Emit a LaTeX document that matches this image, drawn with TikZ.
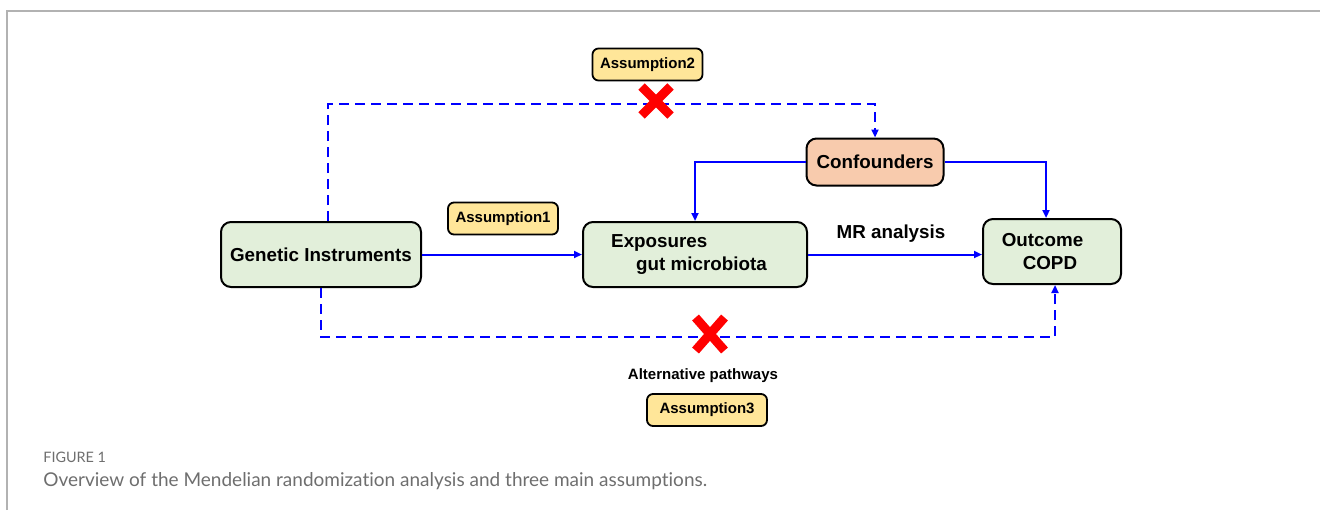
\documentclass[tikz,border=0pt]{standalone}
\usepackage{fontspec}
\setmainfont{Liberation Sans}
\newfontfamily\captionfont[Ligatures=NoCommon]{Lato}
\usepackage{tikz}
\usepackage{xcolor}
\usetikzlibrary{positioning, arrows.meta, shapes.misc}

\definecolor{boxgreen}{HTML}{E2EFDA}
\definecolor{boxpeach}{HTML}{F8CBAD}
\definecolor{boxyellow}{HTML}{FFE699}
\definecolor{linkblue}{HTML}{0000FF}
\definecolor{capgray}{HTML}{6E6E6E}

\begin{document}
\begin{tikzpicture}[
            x=0.5pt, y=-0.5pt,
            every node/.style={font=\fontsize{9.4}{11.5}\selectfont\bfseries},
            mainbox/.style={draw, rounded corners=5pt, line width=1pt, fill=boxgreen, minimum height=32.5pt},
            assumbox/.style={draw, rounded corners=3pt, line width=0.9pt, fill=boxyellow,
                minimum width=55pt, minimum height=16pt, inner sep=0pt, font=\fontsize{7.5}{9}\selectfont\bfseries},
            link/.style={draw=linkblue, line width=1pt, -{Triangle[length=4pt, width=3.5pt]}},
            dashlink/.style={link, dash pattern=on 5pt off 3pt},
            nocross/.style={cross out, draw=red, line width=4.5pt, minimum size=10pt, inner sep=0pt},
        ]
            \useasboundingbox (0,0) rectangle (1320,510);
            % frame of the figure
            \draw[gray!60, line width=1pt] (7,510) -- (7,11) -- (1320,11);

            % main boxes
            \node[mainbox, minimum width=100pt] (gi) at (321,254.5) {Genetic Instruments};
            \node[mainbox, minimum width=112pt, align=left] (exp) at (695,254.5)
                {Exposures\\\hspace*{12.5pt}gut microbiota\hspace*{6pt}};
            \node[mainbox, minimum width=69pt, align=left] (out) at (1052,251.5)
                {Outcome\hspace*{9.5pt}\\\hspace*{10.5pt}COPD};
            \node[mainbox, fill=boxpeach, minimum width=68.5pt, minimum height=23.5pt] (conf) at (875,162) {Confounders};

            % assumptions
            \node[assumbox] (a1) at (503,218.5) {Assumption1};
            \node[assumbox] (a2) at (647.5,64.5) {Assumption2};
            \node[assumbox, minimum width=60pt] (a3) at (707,410) {Assumption3};

            \node (mr) at (891,234) {MR analysis};
            \node[font=\fontsize{7.5}{9}\selectfont\bfseries] (alt) at (703,376) {Alternative pathways};

            % connectors
            \draw[link] (gi) -- (exp);
            \draw[link] (exp.east) -- (exp.east -| out.west);
            \draw[link] (conf.west) -| (exp.north);
            \draw[link] (conf.east) -| ([xshift=-3pt]out.north);
            \coordinate (top) at (328,104);
            \coordinate (bot) at (321,337);
            \draw[dashlink] ([xshift=3.5pt]gi.north) -- (top) -| (conf.north);
            \draw[dashlink] (gi.south) -- (bot) -| ([xshift=1.5pt]out.south);

            % violated paths
            \node[nocross] (x2) at (656,101) {};
            \node[nocross, minimum height=12pt] (x3) at (710,334) {};

            % caption
            \node[anchor=west, font=\captionfont\fontsize{7.2}{9}\selectfont, text=capgray, inner sep=0pt] (fig) at (43,457) {FIGURE 1};
            \node[anchor=west, font=\captionfont\fontsize{9.5}{11}\selectfont, text=capgray, inner sep=0pt] (cap) at (43,481)
                {Overview of the Mendelian randomization analysis and three main assumptions.};
        \end{tikzpicture}
\end{document}
